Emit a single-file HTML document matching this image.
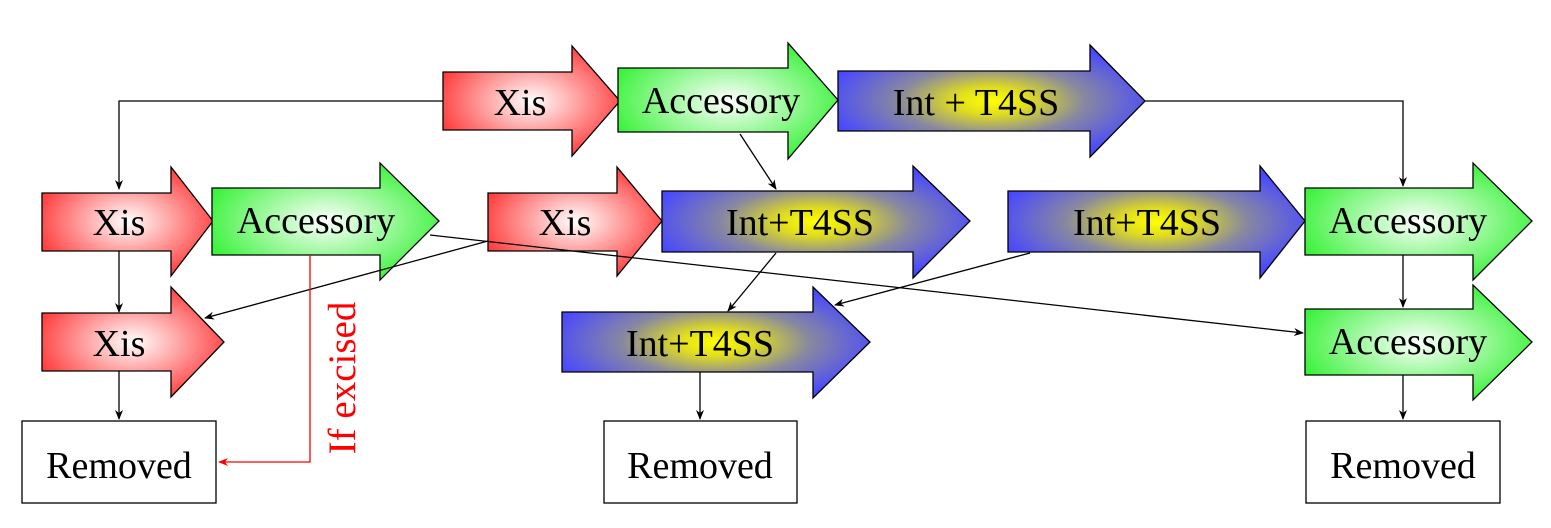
<!DOCTYPE html>
<html><head><meta charset="utf-8"><style>
html,body{margin:0;padding:0;background:#fff;}
svg{display:block;}
.t{font-family:"Liberation Serif","DejaVu Serif","Noto Serif CJK SC",serif;}
</style></head><body>
<svg width="1551" height="528" viewBox="0 0 1551 528" xmlns="http://www.w3.org/2000/svg">
<defs>
<radialGradient id="r" cx="0.5" cy="0.5" r="0.55"><stop offset="0" stop-color="#fff"/><stop offset="1" stop-color="#ff3c3c"/></radialGradient>
<radialGradient id="g" cx="0.5" cy="0.5" r="0.55"><stop offset="0" stop-color="#fff"/><stop offset="1" stop-color="#3cf23c"/></radialGradient>
<radialGradient id="b" cx="0.5" cy="0.5" r="0.55"><stop offset="0" stop-color="#ffff00"/><stop offset="0.22" stop-color="#e0dc20"/><stop offset="0.55" stop-color="#8888a0"/><stop offset="1" stop-color="#4848ff"/></radialGradient>
<marker id="ah" markerWidth="10" markerHeight="8" refX="9" refY="4" orient="auto" markerUnits="userSpaceOnUse"><path d="M0,0 L10,4 L0,8 L3,4 Z" fill="#000"/></marker>
<marker id="ahr" markerWidth="10" markerHeight="8" refX="9" refY="4" orient="auto" markerUnits="userSpaceOnUse"><path d="M0,0 L10,4 L0,8 L3,4 Z" fill="#f00"/></marker>
</defs>
<g stroke="#000" stroke-width="1.3">
<polygon fill="url(#r)" points="443,72 572,72 572,46 620,101 572,156 572,130 443,130"/>
<polygon fill="url(#g)" points="618,68 788,68 788,43 838,100 788,159 788,132 618,132"/>
<polygon fill="url(#b)" points="838,71 1090,71 1090,45 1145,101 1090,157 1090,131 838,131"/>
<polygon fill="url(#r)" points="42,193 171,193 171,167 213,221 171,276 171,251 42,251"/>
<polygon fill="url(#g)" points="212,188 380,188 380,163 439,221 380,280 380,255 212,255"/>
<polygon fill="url(#r)" points="488,193 617,193 617,167 662,221 617,276 617,251 488,251"/>
<polygon fill="url(#b)" points="662,191 913,191 913,166 970,221 913,278 913,252 662,252"/>
<polygon fill="url(#b)" points="1008,191 1260,191 1260,166 1305,221 1260,278 1260,252 1008,252"/>
<polygon fill="url(#g)" points="1305,188 1473,188 1473,163 1532,221 1473,280 1473,255 1305,255"/>
<polygon fill="url(#r)" points="42,313 171,313 171,287 224,342 171,397 171,371 42,371"/>
<polygon fill="url(#b)" points="562,312 813,312 813,287 870,342 813,398 813,372 562,372"/>
<polygon fill="url(#g)" points="1305,309 1473,309 1473,285 1532,342 1473,400 1473,375 1305,375"/>
<rect x="22" y="421" width="194" height="82" fill="#fff"/>
<rect x="604" y="421" width="193" height="82" fill="#fff"/>
<rect x="1306" y="421" width="194" height="82" fill="#fff"/>
</g>
<g stroke="#000" stroke-width="1.3" fill="none">
<polyline points="443,101 119,101 119,189" marker-end="url(#ah)"/>
<polyline points="1145,101 1403,101 1403,186" marker-end="url(#ah)"/>
<line x1="740" y1="134" x2="776" y2="189" marker-end="url(#ah)"/>
<line x1="119" y1="251" x2="119" y2="312" marker-end="url(#ah)"/>
<line x1="119" y1="371" x2="119" y2="419" marker-end="url(#ah)"/>
<line x1="488" y1="241" x2="205" y2="318" marker-end="url(#ah)"/>
<line x1="430" y1="235" x2="1303" y2="333" marker-end="url(#ah)"/>
<line x1="776" y1="253" x2="728" y2="311" marker-end="url(#ah)"/>
<line x1="1030" y1="253" x2="835" y2="305" marker-end="url(#ah)"/>
<line x1="1403" y1="255" x2="1403" y2="307" marker-end="url(#ah)"/>
<line x1="1403" y1="375" x2="1403" y2="419" marker-end="url(#ah)"/>
<line x1="700" y1="372" x2="700" y2="419" marker-end="url(#ah)"/>
</g>
<polyline points="310,255 310,462 219,462" stroke="#f00" stroke-width="1.3" fill="none" marker-end="url(#ahr)"/>
<g class="t" fill="#000" text-anchor="middle">
<text class="t" transform="translate(355,378) rotate(-90)" font-size="39" fill="#f00">If excised</text>
<g font-size="38">
<text class="t" x="520" y="115">Xis</text>
<text class="t" x="721" y="113">Accessory</text>
<text class="t" x="976" y="115">Int + T4SS</text>
<text class="t" x="119" y="235">Xis</text>
<text class="t" x="316" y="233">Accessory</text>
<text class="t" x="565" y="235">Xis</text>
<text class="t" x="800" y="235">Int+T4SS</text>
<text class="t" x="1147" y="235">Int+T4SS</text>
<text class="t" x="1408" y="233">Accessory</text>
<text class="t" x="119" y="356">Xis</text>
<text class="t" x="700" y="356">Int+T4SS</text>
<text class="t" x="1408" y="354">Accessory</text>
<text class="t" x="119" y="478">Removed</text>
<text class="t" x="700" y="478">Removed</text>
<text class="t" x="1403" y="478">Removed</text>
</g>
</g>
</svg>
</body></html>
